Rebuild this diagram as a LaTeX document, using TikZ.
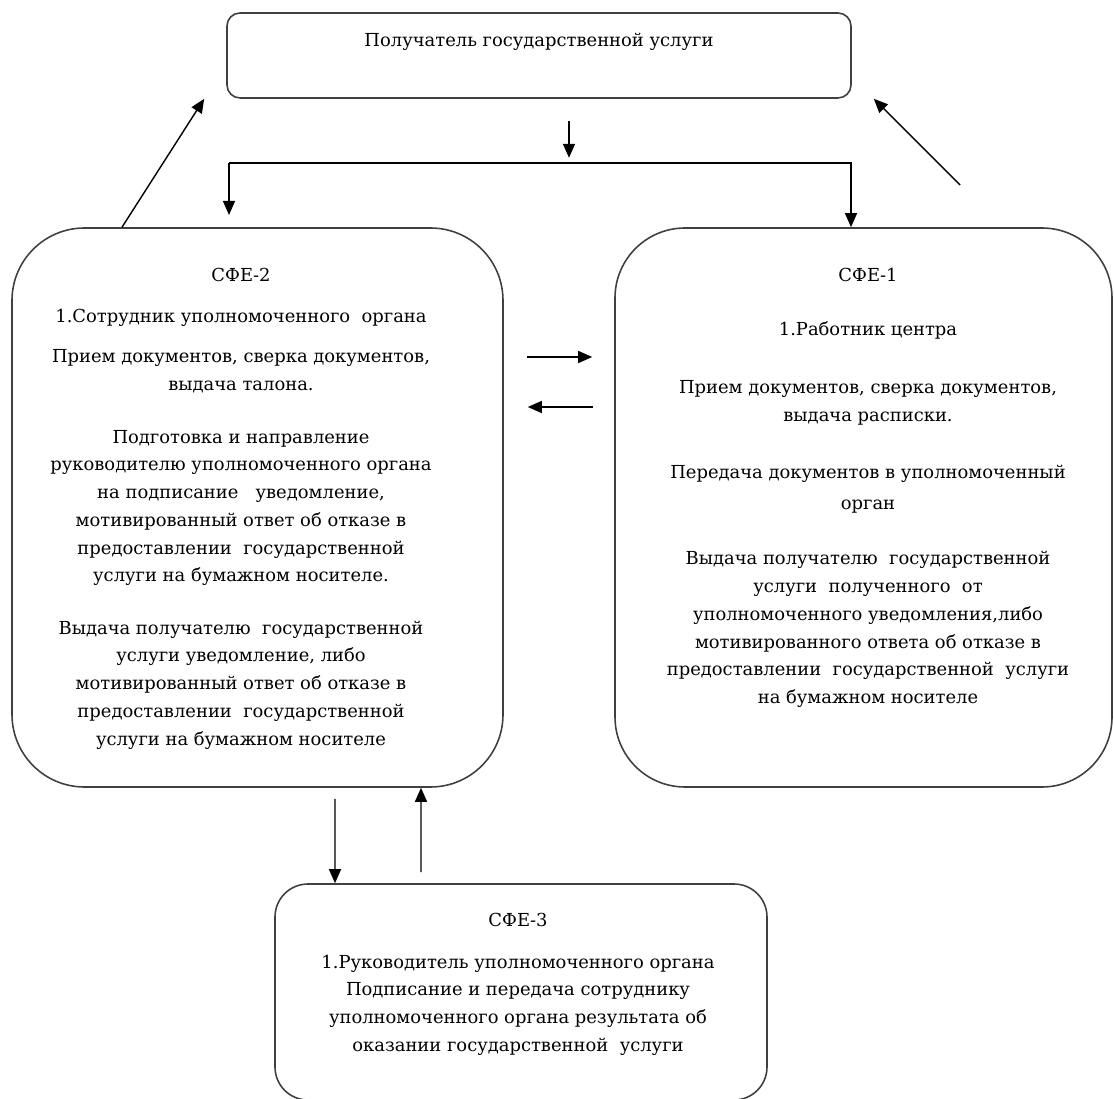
\documentclass[tikz,border=0pt]{standalone}
\usepackage{fontspec}
\setmainfont{DejaVu Serif}
\usetikzlibrary{arrows.meta}

\begin{document}
\begin{tikzpicture}[>={Triangle[length=2.8mm,width=2.4mm]}, line width=0.8pt,
    every node/.style={font=\fontsize{10.2}{15.8}\selectfont, align=center, inner sep=0pt},
    box/.style={draw=black!75, line width=0.9pt}]
      \useasboundingbox (0,0) rectangle (22.28,-21.98);
      % boxes
      \node[box, rounded corners=0.26cm, minimum width=12.48cm, minimum height=1.70cm] (top) at (10.78,-1.11) {};
      \node[box, rounded corners=1.45cm, minimum width=9.82cm, minimum height=11.18cm] (sfe2) at (5.15,-10.15) {};
      \node[box, rounded corners=1.40cm, minimum width=9.94cm, minimum height=11.18cm] (sfe1) at (17.27,-10.15) {};
      \node[box, rounded corners=0.66cm, minimum width=9.84cm, minimum height=4.32cm] (sfe3) at (10.42,-19.84) {};
      % texts
      \node (title) at (10.78,-0.84) {Получатель государственной услуги};
      \node (s2name) at (4.82,-5.50) {СФЕ-2};
      \node (s2who) at (4.82,-6.36) {1.Сотрудник уполномоченного \ органа};
      \node (s2recv) at (4.82,-7.43) {Прием документов, сверка документов,\\выдача талона.};
      \node (s2prep) at (4.82,-10.16) {Подготовка и направление\\руководителю уполномоченного органа\\на подписание \ \ уведомление,\\мотивированный ответ об отказе в\\предоставлении \ государственной\\услуги на бумажном носителе.};
      \node (s2give) at (4.82,-13.70) {Выдача получателю \ государственной\\услуги уведомление, либо\\мотивированный ответ об отказе в\\предоставлении \ государственной\\услуги на бумажном носителе};
      \node (s1name) at (17.36,-5.49) {СФЕ-1};
      \node (s1who) at (17.36,-6.60) {1.Работник центра};
      \node (s1recv) at (17.36,-8.05) {Прием документов, сверка документов,\\выдача расписки.};
      \node (s1pass) at (17.36,-9.79) {Передача документов в уполномоченный\\[2pt]орган};
      \node (s1give) at (17.36,-12.59) {Выдача получателю \ государственной\\услуги \ полученного \ от\\уполномоченного уведомления,либо\\мотивированного ответа об отказе в\\предоставлении \ государственной \ услуги\\на бумажном носителе};
      \node (s3name) at (10.36,-18.40) {СФЕ-3};
      \node (s3body) at (10.36,-20.10) {1.Руководитель уполномоченного органа\\Подписание и передача сотруднику\\уполномоченного органа результата об\\оказании государственной \ услуги};
      % arrows
      \coordinate (busL) at (4.58,-3.26);
      \coordinate (busR) at (17.02,-3.26);
      \coordinate (fromR) at (19.20,-3.70);
      \draw[->] ([xshift=0.6cm,yshift=-0.44cm]top.south) -- ([xshift=0.6cm,yshift=-1.18cm]top.south);
      \draw[->] (busL) -- (busR) -- (busR |- sfe1.north);
      \draw[->] (busL) -- ++(0,-1.04);
      \draw[->] ([xshift=-2.71cm]sfe2.north) -- ([xshift=-0.44cm]top.south west);
      \draw[->] (fromR) -- ([xshift=0.44cm]top.south east);
      \draw[->] ([xshift=0.46cm,yshift=3.01cm]sfe2.east) -- ([xshift=-0.44cm,yshift=3.01cm]sfe1.west);
      \draw[->] ([xshift=-0.42cm,yshift=2.01cm]sfe1.west) -- ([xshift=0.48cm,yshift=2.01cm]sfe2.east);
      \draw[->] ([xshift=1.55cm,yshift=-0.22cm]sfe2.south) -- ([xshift=-3.72cm]sfe3.north);
      \draw[->] ([xshift=-2.0cm,yshift=0.22cm]sfe3.north) -- ([xshift=3.27cm]sfe2.south);
    \end{tikzpicture}
\end{document}
